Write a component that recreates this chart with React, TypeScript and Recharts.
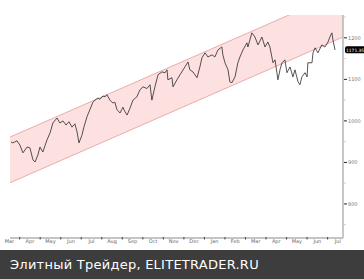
import React from 'react';
import { ComposedChart, Area, Line, XAxis, YAxis } from 'recharts';

// x position in months, 0 = start of April of the first year
const dayPos = [
  -0.42, -0.33, -0.13, 0.01, 0.16, 0.36, 0.5, 0.65, 0.75, 0.89, 0.99, 1.13, 1.33, 1.48, 1.62,
  1.82, 1.96, 2.11, 2.26, 2.4, 2.55, 2.69, 2.79, 2.89, 3.03, 3.13, 3.28, 3.42, 3.57, 3.67,
  3.81, 3.91, 4.06, 4.16, 4.25, 4.4, 4.54, 4.64, 4.74, 4.89, 5.03, 5.13, 5.23, 5.37, 5.52,
  5.71, 5.86, 6.01, 6.2, 6.35, 6.44, 6.59, 6.74, 6.93, 7.08, 7.18, 7.22, 7.42, 7.47, 7.66,
  7.81, 8.05, 8.2, 8.29, 8.44, 8.64, 8.78, 8.88, 9.03, 9.17, 9.37, 9.51, 9.66, 9.85, 9.9,
  10.0, 10.15, 10.24, 10.34, 10.49, 10.63, 10.73, 10.88, 11.07, 11.12, 11.31, 11.46, 11.61, 11.8, 11.95,
  12.09, 12.19, 12.34, 12.44, 12.53, 12.58, 12.68, 12.78, 12.92, 13.02, 13.17, 13.31, 13.41, 13.56, 13.65,
  13.75, 13.9, 14.0, 14.04, 14.24, 14.29, 14.39, 14.53, 14.72, 14.87, 15.02, 15.11, 15.21, 15.26, 15.36,
];

const closes = [
  949, 947, 952, 942, 923, 937, 935, 906, 901, 918, 937, 925, 954, 971, 995,
  1007, 995, 1000, 990, 998, 985, 993, 975, 947, 965, 985, 1010, 1027, 1045, 1050,
  1055, 1052, 1060, 1058, 1063, 1050, 1043, 1045, 1027, 1019, 1033, 1022, 1014, 1030, 1050,
  1058, 1075, 1082, 1078, 1087, 1050, 1082, 1111, 1118, 1116, 1123, 1099, 1104, 1082, 1099,
  1111, 1130, 1142, 1123, 1118, 1104, 1130, 1152, 1164, 1154, 1159, 1154, 1171, 1178, 1159,
  1140, 1123, 1094, 1092, 1106, 1140, 1154, 1171, 1188, 1178, 1212, 1202, 1183, 1202, 1178,
  1190, 1178, 1140, 1147, 1116, 1099, 1123, 1140, 1147, 1116, 1130, 1106, 1123, 1094, 1087,
  1106, 1116, 1106, 1140, 1140, 1164, 1176, 1164, 1183, 1178, 1190, 1202, 1212, 1195, 1171,
];

const lastPrice = 1171.35;

// regression channel, start and end of the window
const channelPos = [-0.47, 15.75];
const channelLow = [851, 1202];
const channelHigh = [961, 1312];

// month boundaries; label i+1 sits in the month that starts at boundary i
const monthBounds = [0, 1, 2, 3, 4, 5, 6, 7, 8, 9, 10, 11, 12, 13, 14, 15];
const monthLabels = ['Mar', 'Apr', 'May', 'Jun', 'Jul', 'Aug', 'Sep', 'Oct', 'Nov', 'Dec', 'Jan', 'Feb', 'Mar', 'Apr', 'May', 'Jun', 'Jul'];

const yTicks = [750, 800, 850, 900, 950, 1000, 1050, 1100, 1150, 1200, 1250];

const W = 364;
const H = 250;
const M_LEFT = 10;
const Y_W = 21;
const HALF_MONTH = (W - M_LEFT - Y_W) / (channelPos[1] - channelPos[0]) / 2;

const prices = dayPos.map((t, i) => ({ t, v: closes[i] }));
const channel = channelPos.map((t, i) => ({ t, band: [channelLow[i], channelHigh[i]] }));

const labelStyle = { fontSize: 5, fill: '#666', fontFamily: 'Verdana, DejaVu Sans, sans-serif' };

const XTick = (props: any) => {
  const { x, y, payload } = props;
  const idx = monthBounds.indexOf(payload.value);
  return (
    <g>
      <line x1={x} x2={x} y1={y - 1} y2={y + 1.5} stroke="#444" strokeWidth={1} />
      {idx === 0 && (
        <text x={x - HALF_MONTH} y={y + 5} textAnchor="middle" {...labelStyle}>
          {monthLabels[0]}
        </text>
      )}
      <text x={x + HALF_MONTH} y={y + 5} textAnchor="middle" {...labelStyle}>
        {monthLabels[idx + 1]}
      </text>
    </g>
  );
};

const YTick = (props: any) => {
  const { x, y, payload } = props;
  const val = payload.value;
  if (val === lastPrice) {
    return (
      <g>
        <rect x={x + 2} y={y - 3.5} width={21} height={7} rx={2} fill="#000" />
        <text x={x + 3} y={y + 0.3} fontSize={4.4} fill="#fff" dominantBaseline="central" fontFamily="Verdana, DejaVu Sans, sans-serif">
          {lastPrice.toFixed(2)}
        </text>
      </g>
    );
  }
  if (val % 100 !== 0) {
    return <line x1={x + 1} x2={x + 3} y1={y} y2={y} stroke="#d0d0d0" strokeWidth={1} />;
  }
  return (
    <g>
      <line x1={x + 1} x2={x + 4} y1={y} y2={y} stroke="#222" strokeWidth={1} />
      <text x={x + 5} y={y} fontSize={5} fill="#777" dominantBaseline="central" fontFamily="Verdana, DejaVu Sans, sans-serif">
        {val}
      </text>
    </g>
  );
};

export default function App() {
  return (
    <div style={{ position: 'absolute', left: 0, top: 0, width: 364, height: 279, background: '#fff' }}>
      <ComposedChart width={W} height={H} margin={{ top: 15, right: 0, left: M_LEFT, bottom: 0 }}>
        <XAxis
          xAxisId="m"
          dataKey="t"
          type="number"
          domain={[channelPos[0], channelPos[1]]}
          allowDataOverflow
          ticks={monthBounds}
          tick={<XTick />}
          tickLine={false}
          tickSize={0}
          tickMargin={0}
          axisLine={{ stroke: '#8a8a8a', strokeWidth: 1 }}
          height={12}
          interval={0}
        />
        <YAxis
          orientation="right"
          type="number"
          domain={[718, 1255]}
          allowDataOverflow
          ticks={[...yTicks, lastPrice]}
          tick={<YTick />}
          tickLine={false}
          tickSize={0}
          tickMargin={0}
          axisLine={{ stroke: '#b4b4b4', strokeWidth: 1.5 }}
          width={Y_W}
          interval={0}
        />
        <Area
          xAxisId="m"
          data={channel}
          dataKey="band"
          type="linear"
          fill="#fde0e0"
          fillOpacity={1}
          stroke="#e39a9a"
          strokeWidth={0.8}
          isAnimationActive={false}
        />
        <Line
          xAxisId="m"
          data={prices}
          dataKey="v"
          type="linear"
          stroke="#2a2a2a"
          strokeWidth={0.8}
          dot={false}
          isAnimationActive={false}
        />
      </ComposedChart>
      <div
        style={{
          position: 'absolute',
          left: 0,
          top: 250,
          width: 364,
          height: 29,
          background: '#3d3d3d',
          color: '#fff',
          fontFamily: 'DejaVu Sans, sans-serif',
          fontSize: 13,
          letterSpacing: 0.25,
          lineHeight: '29px',
          paddingLeft: 10,
          boxSizing: 'border-box',
          whiteSpace: 'nowrap',
        }}
      >
        Элитный Трейдер, ELITETRADER.RU
      </div>
    </div>
  );
}
